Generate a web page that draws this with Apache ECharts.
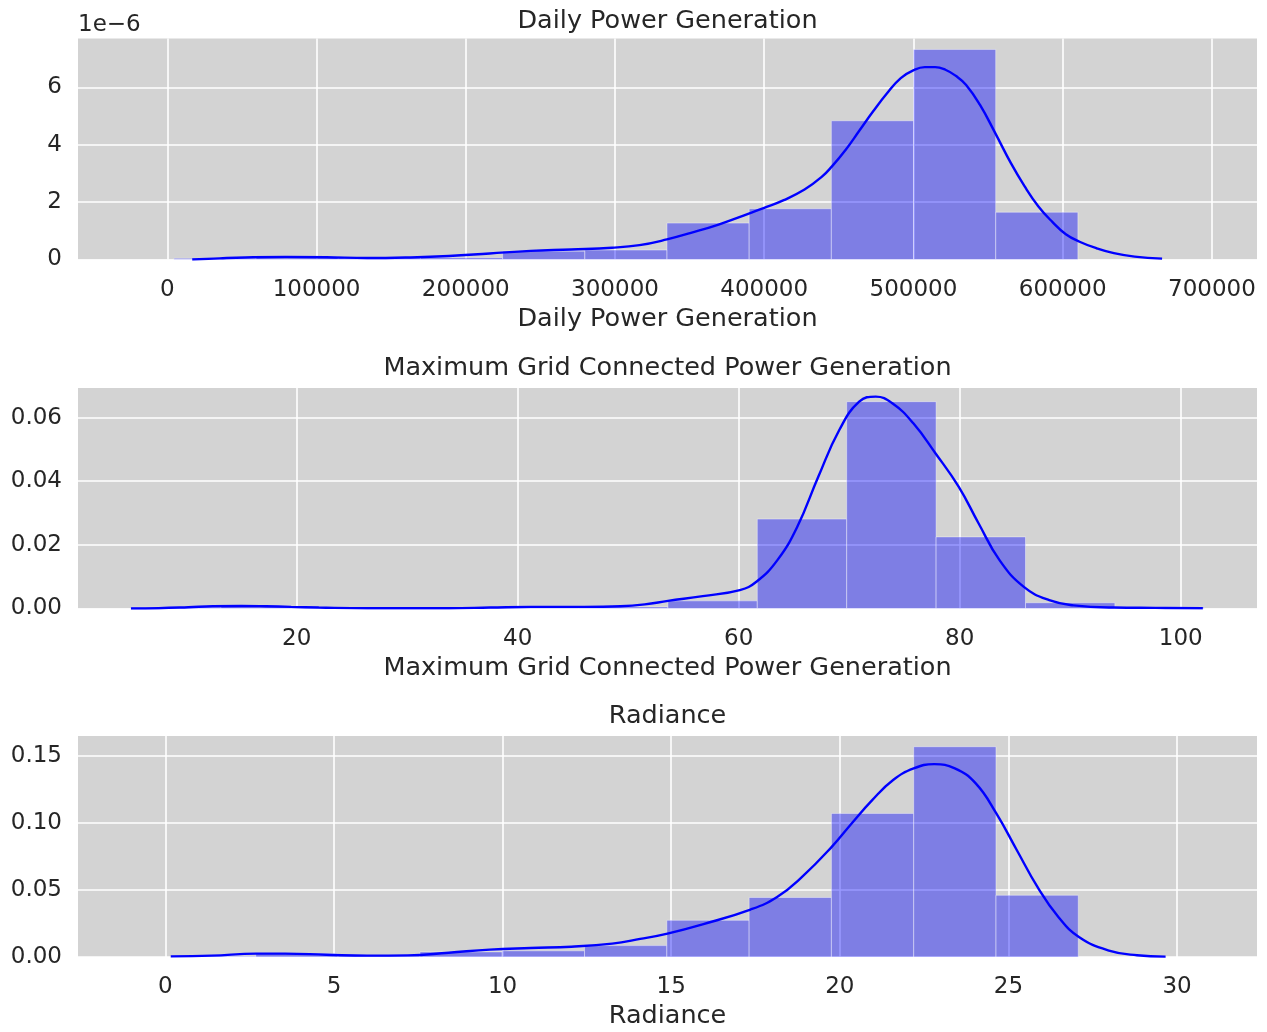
<!DOCTYPE html>
<html>
<head>
<meta charset="utf-8">
<title>Distributions</title>
<script src="https://cdn.jsdelivr.net/npm/echarts@6/dist/echarts.min.js"></script>
<style>
  html, body { margin: 0; padding: 0; background: #ffffff; }
  #chart { width: 1267px; height: 1032px; }
</style>
</head>
<body>
<div id="chart"></div>
<script>
// ---- Daily Power Generation ----
const dailyBinEdges = [4410, 59480, 114550, 169620, 224690, 279760, 334830, 389900, 444970, 500040, 555110, 610180];
const dailyDensity = [0.04e-6, 0.09e-6, 0.05e-6, 0.06e-6, 0.29e-6, 0.33e-6, 1.27e-6, 1.77e-6, 4.84e-6, 7.33e-6, 1.65e-6];
const dailyKdeX = [16700, 35000, 52200, 79400, 106800, 134000, 161300, 188700, 216000, 243400, 270600, 298000, 316400, 334800, 350900, 369400, 390100, 400000, 413100, 427000, 438500, 445400, 454600, 463800, 473000, 482300, 491500, 500700, 507600, 514500, 521400, 528300, 535300, 544500, 554800, 565200, 574400, 583600, 592900, 602100, 611300, 622800, 634300, 648200, 666600];
const dailyKdeY = [0.00e-6, 0.04e-6, 0.07e-6, 0.09e-6, 0.08e-6, 0.05e-6, 0.07e-6, 0.12e-6, 0.21e-6, 0.30e-6, 0.35e-6, 0.41e-6, 0.50e-6, 0.70e-6, 0.93e-6, 1.22e-6, 1.61e-6, 1.80e-6, 2.07e-6, 2.44e-6, 2.88e-6, 3.25e-6, 3.83e-6, 4.50e-6, 5.17e-6, 5.80e-6, 6.33e-6, 6.62e-6, 6.71e-6, 6.71e-6, 6.62e-6, 6.41e-6, 6.09e-6, 5.40e-6, 4.41e-6, 3.37e-6, 2.56e-6, 1.86e-6, 1.32e-6, 0.88e-6, 0.62e-6, 0.39e-6, 0.22e-6, 0.10e-6, 0.03e-6];
const dailyXTicks = [0, 100000, 200000, 300000, 400000, 500000, 600000, 700000];
const dailyYTicks = [0, 2e-6, 4e-6, 6e-6];

// ---- Maximum Grid Connected Power Generation ----
const gridBinEdges = [5.05, 13.14, 21.23, 29.32, 37.41, 45.50, 53.59, 61.68, 69.77, 77.86, 85.95, 94.04, 102.13];
const gridDensity = [0.0004, 0.0007, 0.0002, 0.0001, 0.0003, 0.0005, 0.0024, 0.0281, 0.0650, 0.0225, 0.0018, 0.0004];
const gridKdeX = [5.0, 7.5, 10.2, 12.4, 15.0, 17.2, 19.5, 22.0, 26.4, 30.0, 33.8, 37.5, 41.2, 46.0, 49.3, 51.5, 53.6, 56.75, 60.1, 61.6, 63.5, 65.3, 67.2, 69.1, 70.9, 72.4, 73.9, 75.8, 77.8, 79.9, 81.7, 83.6, 85.8, 88.1, 90.3, 94.0, 97.7, 102.0];
const gridKdeY = [0.0000, 0.0001, 0.0004, 0.0007, 0.0008, 0.0007, 0.0005, 0.0003, 0.0001, 0.0001, 0.0001, 0.0003, 0.0005, 0.0005, 0.0007, 0.0013, 0.0024, 0.0039, 0.0058, 0.0084, 0.0152, 0.0257, 0.0414, 0.0561, 0.0650, 0.0666, 0.0645, 0.0582, 0.0488, 0.0383, 0.0268, 0.0152, 0.0068, 0.0026, 0.0010, 0.0003, 0.0002, 0.0001];
const gridXTicks = [20, 40, 60, 80, 100];
const gridYTicks = [0, 0.02, 0.04, 0.06];

// ---- Radiance ----
const radBinEdges = [0.24, 2.68, 5.12, 7.55, 9.99, 12.43, 14.87, 17.31, 19.75, 22.19, 24.63, 27.07];
const radDensity = [0.0005, 0.0025, 0.0008, 0.0038, 0.0046, 0.0085, 0.0274, 0.0444, 0.1072, 0.1570, 0.0461];
const radKdeX = [0.16, 1.37, 2.70, 3.55, 4.77, 5.98, 7.19, 8.40, 9.62, 10.83, 12.04, 13.25, 14.08, 14.89, 15.93, 17.35, 18.14, 18.88, 19.76, 20.35, 20.96, 21.58, 22.19, 22.80, 23.41, 24.03, 24.64, 25.25, 25.86, 26.48, 27.09, 27.95, 28.81, 29.66];
const radKdeY = [0.0005, 0.0010, 0.0025, 0.0025, 0.0017, 0.0010, 0.0012, 0.0032, 0.0055, 0.0067, 0.0077, 0.0100, 0.0135, 0.0175, 0.0244, 0.0354, 0.0448, 0.0598, 0.0822, 0.0997, 0.1171, 0.1321, 0.1408, 0.1440, 0.1408, 0.1296, 0.1072, 0.0797, 0.0523, 0.0299, 0.0149, 0.0050, 0.0013, 0.0003];
const radXTicks = [0, 5, 10, 15, 20, 25, 30];
const radYTicks = [0, 0.05, 0.10, 0.15];

const panelTitles = ['Daily Power Generation', 'Maximum Grid Connected Power Generation', 'Radiance'];

const FONT = 'DejaVu Sans';
const TEXT = '#262626';
const PLOT_BG = '#d3d3d3';

const panels = [
  { edges: dailyBinEdges, dens: dailyDensity, kx: dailyKdeX, ky: dailyKdeY, xt: dailyXTicks, yt: dailyYTicks,
    xr: [-59840, 730200], yr: [0, 7.71e-6], top: 38.5, h: 221,
    yfmt: v => String(Math.round(v * 1e6)), xfmt: v => String(v) },
  { edges: gridBinEdges, dens: gridDensity, kx: gridKdeX, ky: gridKdeY, xt: gridXTicks, yt: gridYTicks,
    xr: [0.21, 106.9], yr: [0, 0.0693], top: 388, h: 220.5,
    yfmt: v => v.toFixed(2), xfmt: v => String(v) },
  { edges: radBinEdges, dens: radDensity, kx: radKdeX, ky: radKdeY, xt: radXTicks, yt: radYTicks,
    xr: [-2.59, 32.37], yr: [0, 0.165], top: 736, h: 221,
    yfmt: v => v.toFixed(2), xfmt: v => String(v) }
];

const grid = [], xAxis = [], yAxis = [], series = [], graphic = [];

panels.forEach((p, i) => {
  grid.push({ left: 78, right: 10, top: p.top, height: p.h, show: true,
              backgroundColor: PLOT_BG, borderWidth: 0, containLabel: false });
  xAxis.push({
    type: 'value', gridIndex: i, min: p.xr[0], max: p.xr[1],
    name: panelTitles[i], nameLocation: 'middle', nameGap: 46.5,
    nameTextStyle: { fontFamily: FONT, fontSize: 25.5, color: TEXT },
    axisLine: { show: false },
    axisTick: { show: false, customValues: p.xt },
    axisLabel: { customValues: p.xt, margin: 19, fontFamily: FONT, fontSize: 23, color: TEXT, formatter: p.xfmt },
    splitLine: { show: true, lineStyle: { color: '#ffffff', width: 1.6 } }
  });
  yAxis.push({
    type: 'value', gridIndex: i, min: p.yr[0], max: p.yr[1],
    axisLine: { show: false },
    axisTick: { show: false, customValues: p.yt },
    axisLabel: { customValues: p.yt, margin: 16, fontFamily: FONT, fontSize: 23, color: TEXT, formatter: p.yfmt },
    splitLine: { show: true, lineStyle: { color: '#ffffff', width: 1.6 } }
  });

  // histogram bars: [left edge, right edge, density]
  const binData = p.dens.map((d, k) => [p.edges[k], p.edges[k + 1], d]);
  series.push({
    type: 'custom', xAxisIndex: i, yAxisIndex: i, z: 2,
    data: binData,
    encode: { x: [0, 1], y: 2 },
    renderItem: (params, api) => {
      const a = api.coord([api.value(0), api.value(2)]);
      const b = api.coord([api.value(1), 0]);
      return {
        type: 'rect',
        shape: { x: a[0], y: a[1], width: b[0] - a[0], height: b[1] - a[1] },
        style: { fill: 'rgba(0,0,255,0.4)', stroke: 'rgba(255,255,255,0.4)', lineWidth: 1 }
      };
    }
  });

  // kernel density estimate
  series.push({
    type: 'line', xAxisIndex: i, yAxisIndex: i, z: 3,
    data: p.kx.map((x, k) => [x, p.ky[k]]),
    showSymbol: false, smooth: 0.45,
    lineStyle: { color: '#0000ff', width: 2.4 }
  });

  // panel title, centred over the plot area
  graphic.push({
    type: 'text', x: 667.5, y: [21, 368, 716.5][i],
    style: { text: panelTitles[i], fontFamily: FONT, fontSize: 25.5, fill: TEXT,
             align: 'center', verticalAlign: 'middle' }
  });
});

// scale multiplier for the first panel's density axis
graphic.push({
  type: 'text', x: 78, y: 25.5,
  style: { text: '1e\u22126', fontFamily: FONT, fontSize: 23, fill: TEXT, align: 'left', verticalAlign: 'middle' }
});

const chart = echarts.init(document.getElementById('chart'), null, { renderer: 'canvas' });
chart.setOption({
  animation: false,
  backgroundColor: '#ffffff',
  grid, xAxis, yAxis, series, graphic
});
</script>
</body>
</html>
